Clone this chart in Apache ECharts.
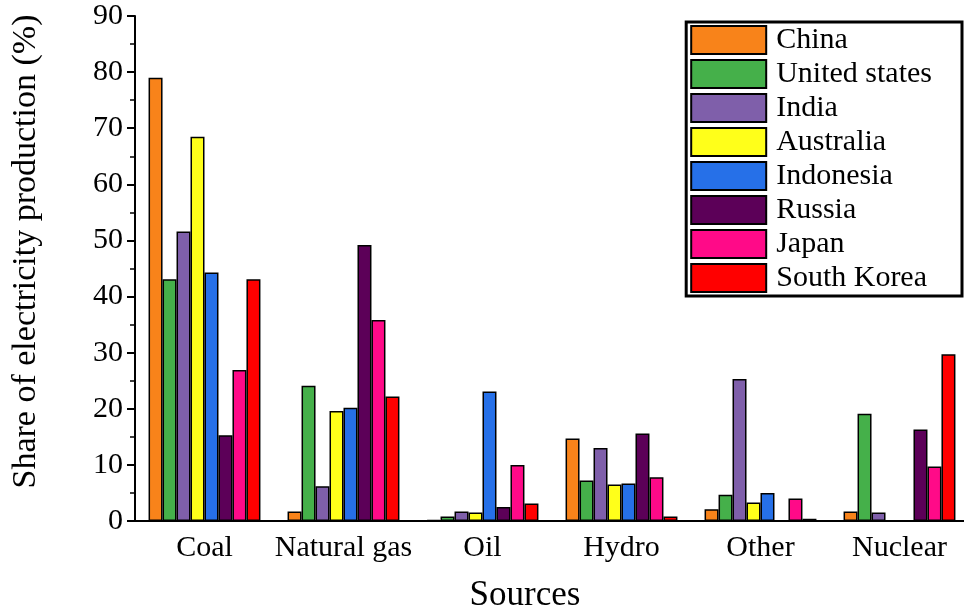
<!DOCTYPE html>
<html>
<head>
<meta charset="utf-8">
<script src="https://cdn.jsdelivr.net/npm/echarts@6/dist/echarts.min.js"></script>
<style>html,body{margin:0;padding:0;background:#fff;}#c{width:964px;height:611px;}</style>
</head>
<body>
<div id="c"></div>
<script>
const categories = ['Coal', 'Natural gas', 'Oil', 'Hydro', 'Other', 'Nuclear'];
const countries = ['China', 'United states', 'India', 'Australia', 'Indonesia', 'Russia', 'Japan', 'South Korea'];
const colors = ['#F8831A', '#45B04A', '#7F5FAA', '#FFFF1A', '#2670E8', '#5C0058', '#FF0A88', '#FF0000'];
const china      = [79.0, 1.7, 0.2, 14.7, 2.1, 1.7];
const unitedStates = [43.1, 24.1, 0.8, 7.2, 4.7, 19.1];
const india      = [51.6, 6.2, 1.7, 13.0, 25.3, 1.5];
const australia  = [68.5, 19.6, 1.5, 6.5, 3.3, 0];
const indonesia  = [44.3, 20.2, 23.1, 6.7, 5.0, 0];
const russia     = [15.3, 49.2, 2.5, 15.6, 0.1, 16.3];
const japan      = [26.9, 35.8, 10.0, 7.8, 4.0, 9.7];
const southKorea = [43.1, 22.2, 3.1, 0.8, 0.4, 29.7];
const seriesValues = [china, unitedStates, india, australia, indonesia, russia, japan, southKorea];
const yTicks = [0, 10, 20, 30, 40, 50, 60, 70, 80, 90];

const font = 'Liberation Serif';
const chart = echarts.init(document.getElementById('c'));
chart.setOption({
  animation: false,
  backgroundColor: '#fff',
  grid: { left: 135, top: 16, bottom: 90, right: -5, containLabel: false, outerBoundsMode: 'none' },
  legend: {
    orient: 'vertical',
    right: 2,
    top: 22,
    icon: 'rect',
    itemWidth: 75,
    itemHeight: 28,
    itemGap: 4,
    padding: [3, 30, 3, 4],
    borderColor: '#000',
    borderWidth: 3,
    backgroundColor: '#fff',
    textStyle: { fontFamily: font, fontSize: 30, color: '#000', padding: [0, 0, 0, 5] },
    data: countries
  },
  xAxis: {
    type: 'category',
    data: categories,
    name: 'Sources',
    nameLocation: 'middle',
    nameGap: 57,
    nameTextStyle: { fontFamily: font, fontSize: 35, color: '#000', padding: [0, 54, 0, 0] },
    axisLine: { lineStyle: { color: '#000', width: 2 } },
    axisTick: { alignWithLabel: true, length: 8, lineStyle: { color: '#000', width: 2 } },
    axisLabel: { interval: 0, fontFamily: font, fontSize: 30, color: '#000', margin: 12 }
  },
  yAxis: {
    type: 'value',
    min: yTicks[0],
    max: yTicks[yTicks.length - 1],
    interval: 10,
    name: 'Share of electricity production (%)',
    nameLocation: 'middle',
    nameGap: 92,
    nameTextStyle: { fontFamily: font, fontSize: 34, color: '#000', padding: [0, 0, 0, 34] },
    axisLine: { show: true, lineStyle: { color: '#000', width: 2 } },
    axisTick: { show: true, length: 8, lineStyle: { color: '#000', width: 2 } },
    minorTick: { show: true, splitNumber: 2, length: 5, lineStyle: { color: '#000', width: 1.5 } },
    splitLine: { show: false },
    axisLabel: { fontFamily: font, fontSize: 30, color: '#000', margin: 12 }
  },
  series: countries.map((name, i) => ({
    name: name,
    type: 'bar',
    data: seriesValues[i],
    barGap: '0%',
    barCategoryGap: '19.5%',
    itemStyle: { color: colors[i], borderColor: '#000', borderWidth: 1.5 }
  }))
});
</script>
</body>
</html>
